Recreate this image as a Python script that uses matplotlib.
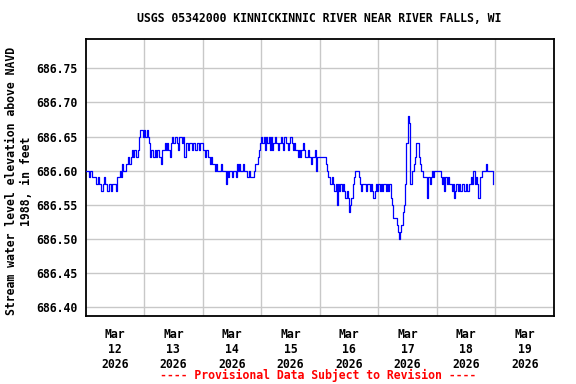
import numpy as np
import matplotlib
matplotlib.use("Agg")
import matplotlib.pyplot as plt
from matplotlib.ticker import FixedLocator, FixedFormatter

# Water level readings every 30 minutes, in hundredths of a foot above 686.00 ft
BASE_FT = 686.00
mar12 = [60, 60, 60, 59, 60, 59, 59, 59, 59, 58,
         59, 58, 58, 57, 58, 59, 58, 58, 57, 58,
         58, 57, 58, 58, 58, 57, 59, 59, 60, 59,
         61, 60, 60, 61, 61, 62, 61, 62, 63, 62,
         63, 62, 62, 63, 65, 66, 66, 65]
mar13 = [66, 65, 66, 65, 64, 62, 63, 62, 62, 63,
         62, 63, 62, 62, 61, 63, 63, 64, 63, 64,
         63, 62, 64, 65, 64, 65, 65, 64, 63, 65,
         65, 64, 65, 62, 64, 64, 63, 64, 64, 63,
         64, 64, 63, 64, 64, 63, 64, 64]
mar14 = [63, 63, 62, 63, 62, 62, 61, 62, 61, 61,
         60, 61, 60, 60, 60, 61, 60, 60, 60, 58,
         60, 59, 60, 60, 59, 60, 60, 59, 61, 60,
         61, 60, 60, 61, 60, 60, 59, 59, 60, 59,
         59, 59, 60, 61, 61, 62, 63, 64]
mar15 = [65, 64, 65, 63, 65, 64, 65, 63, 65, 63,
         64, 65, 64, 64, 63, 64, 65, 64, 63, 65,
         64, 64, 63, 64, 65, 64, 63, 64, 63, 63,
         62, 63, 62, 63, 64, 63, 62, 62, 63, 62,
         62, 61, 62, 62, 63, 60, 62, 62]
mar16 = [62, 62, 62, 62, 62, 61, 60, 59, 58, 58,
         59, 58, 57, 58, 55, 58, 57, 58, 57, 58,
         57, 56, 57, 56, 54, 55, 56, 58, 59, 60,
         60, 60, 59, 58, 57, 58, 58, 58, 57, 58,
         58, 57, 58, 57, 56, 57, 58, 57]
mar17 = [58, 57, 58, 57, 58, 58, 57, 58, 57, 58,
         56, 55, 53, 53, 53, 52, 51, 50, 51, 52,
         54, 55, 58, 64, 68, 67, 58, 58, 60, 61,
         62, 64, 64, 62, 61, 60, 60, 59, 59, 59,
         56, 59, 58, 59, 60, 59, 60, 60]
mar18 = [60, 60, 60, 59, 58, 59, 57, 59, 58, 59,
         58, 58, 57, 58, 56, 57, 58, 57, 58, 57,
         57, 58, 57, 57, 58, 57, 58, 58, 59, 58,
         60, 58, 59, 58, 56, 59, 59, 60, 60, 60,
         61, 60, 60, 60, 60, 60, 58]

day_labels = ["Mar\n12\n2026", "Mar\n13\n2026", "Mar\n14\n2026", "Mar\n15\n2026",
              "Mar\n16\n2026", "Mar\n17\n2026", "Mar\n18\n2026", "Mar\n19\n2026"]
y_ticks = [686.40, 686.45, 686.50, 686.55, 686.60, 686.65, 686.70, 686.75]

values = np.array(mar12 + mar13 + mar14 + mar15 + mar16 + mar17 + mar18) / 100.0 + BASE_FT
hours = np.arange(len(values)) * 0.5  # hours since Mar 12 00:00

FONT = "DejaVu Sans Mono"
FS = 8.3

fig = plt.figure(figsize=(5.76, 3.84), dpi=100)
ax = fig.add_axes([85.5 / 576, 1 - 316 / 384, (554 - 85.5) / 576, (316 - 39.3) / 384])

ax.plot(hours, values, color="#0000ff", linewidth=0.9, drawstyle="steps-post", zorder=3)

ax.set_xlim(0, 8 * 24)
ax.set_ylim(686.387, 686.7925)

# gridlines at midnights (minor), labels at noon (major)
ax.xaxis.set_minor_locator(FixedLocator([24 * k for k in range(1, 8)]))
ax.xaxis.set_major_locator(FixedLocator([12 + 24 * k for k in range(8)]))
ax.xaxis.set_major_formatter(FixedFormatter(day_labels))
ax.set_yticks(y_ticks)
ax.set_yticklabels([f"{v:.2f}" for v in y_ticks])

ax.grid(which="minor", axis="x", color="#c8c8c8", linewidth=1.0, zorder=0)
ax.grid(which="major", axis="y", color="#c8c8c8", linewidth=1.0, zorder=0)
ax.grid(which="major", axis="x", visible=False)

ax.tick_params(axis="both", which="both", length=0)
ax.tick_params(axis="x", pad=9)
ax.tick_params(axis="y", pad=6)
for lab in ax.get_xticklabels() + ax.get_yticklabels():
    lab.set_fontfamily(FONT)
    lab.set_fontweight("bold")
    lab.set_fontsize(FS)
for lab in ax.get_xticklabels():
    lab.set_linespacing(1.15)
    lab.set_horizontalalignment("center")
    lab.set_multialignment("center")

for sp in ax.spines.values():
    sp.set_linewidth(1.3)
    sp.set_color("black")

fig.text(319 / 576, 1 - 19 / 384, "USGS 05342000 KINNICKINNIC RIVER NEAR RIVER FALLS, WI",
         ha="center", va="center", fontfamily=FONT, fontweight="bold", fontsize=FS)
fig.text(19 / 576, 1 - 181 / 384, "Stream water level elevation above NAVD\n1988, in feet",
         rotation=90, ha="center", va="center", multialignment="center",
         fontfamily=FONT, fontweight="bold", fontsize=FS, linespacing=1.2)
fig.text(318.5 / 576, 1 - 375 / 384, "---- Provisional Data Subject to Revision ----",
         ha="center", va="center", color="red", fontfamily=FONT, fontweight="bold", fontsize=FS)

fig.savefig("out.png", dpi=100)
